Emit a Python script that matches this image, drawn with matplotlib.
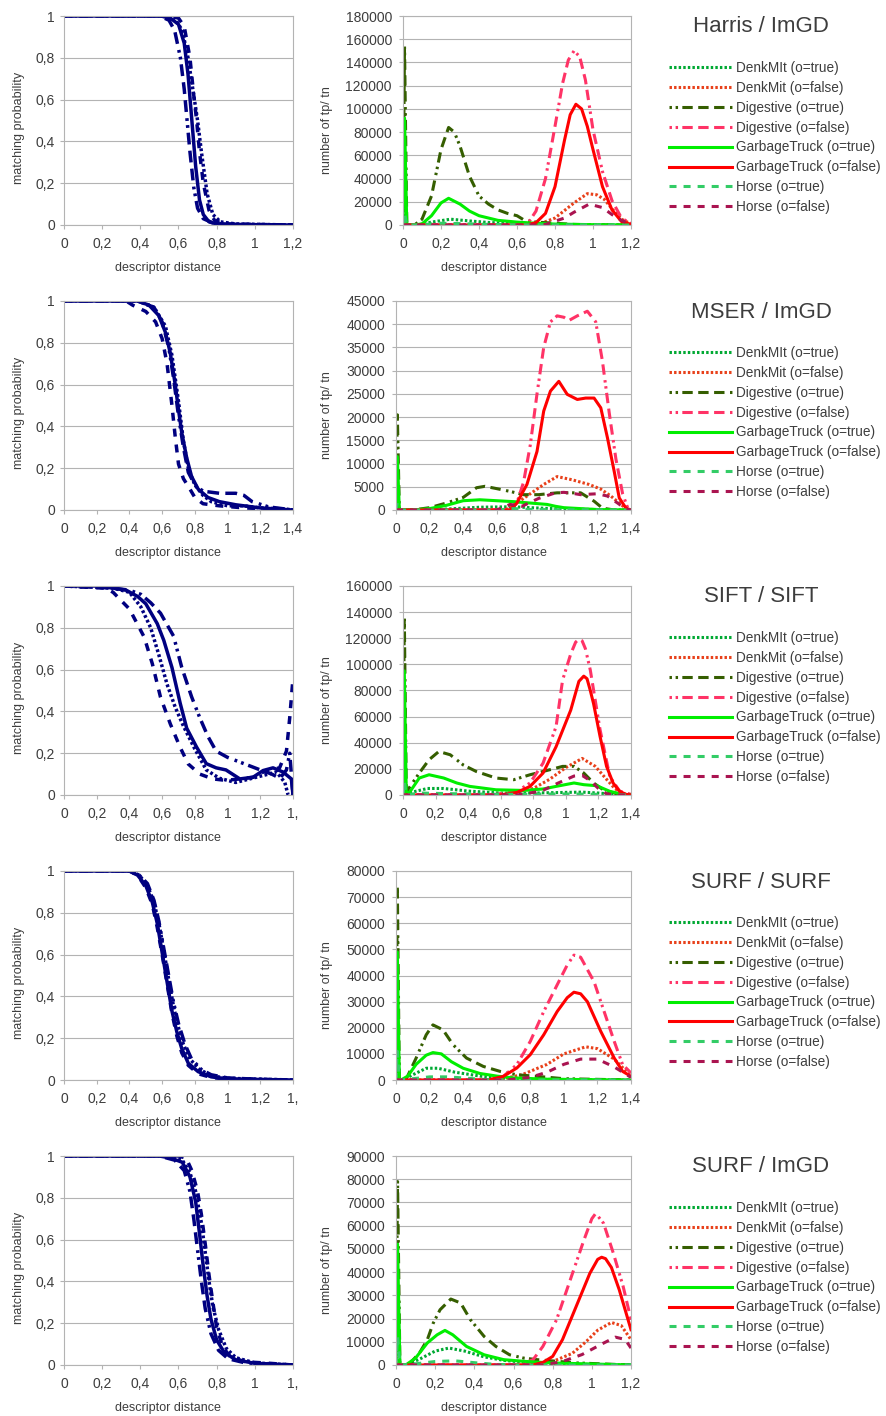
import matplotlib
matplotlib.use("Agg")
import numpy as np
import matplotlib.pyplot as plt
from matplotlib.ticker import FuncFormatter

plt.rcParams['font.family'] = ['Liberation Sans', 'DejaVu Sans']

W, H = 886, 1416
ROW_STEP = 285
TXT = '#3d3d3d'
GRID = '#b3b3b3'
NAVY = '#000080'

TITLES = ["Harris / ImGD", "MSER / ImGD", "SIFT / SIFT", "SURF / SURF", "SURF / ImGD"]
LEGEND_LABELS = ["DenkMIt (o=true)", "DenkMit (o=false)", "Digestive (o=true)", "Digestive (o=false)",
                 "GarbageTruck (o=true)", "GarbageTruck (o=false)", "Horse (o=true)", "Horse (o=false)"]
PROB_XMAX = [1.2, 1.4, 1.4, 1.4, 1.2]
PROB_LAST_LABEL = [None, None, "1,", "1,", "1,"]
COUNT_XMAX = [1.2, 1.4, 1.4, 1.4, 1.2]
COUNT_YMAX = [180000, 45000, 160000, 80000, 90000]
COUNT_YSTEP = [20000, 5000, 20000, 10000, 10000]

# ---- Harris / ImGD ----
harris_prob_denkmit = [(0, 1), (0.5, 1), (0.58, 0.99), (0.62, 0.93), (0.65, 0.8), (0.68, 0.62), (0.70, 0.5),
                       (0.72, 0.35), (0.75, 0.15), (0.78, 0.05), (0.82, 0.015), (0.9, 0.005), (1.2, 0)]
harris_prob_digestive = [(0, 1), (0.5, 1), (0.55, 0.98), (0.58, 0.93), (0.61, 0.8), (0.63, 0.65), (0.645, 0.5),
                         (0.66, 0.35), (0.68, 0.18), (0.7, 0.08), (0.73, 0.03), (0.78, 0.01), (0.85, 0.003), (1.2, 0)]
harris_prob_garbage = [(0, 1), (0.5, 1), (0.55, 0.995), (0.6, 0.96), (0.63, 0.87), (0.65, 0.72), (0.67, 0.5),
                       (0.69, 0.28), (0.71, 0.12), (0.73, 0.05), (0.76, 0.015), (0.8, 0.005), (1.0, 0.001), (1.2, 0)]
harris_prob_horse = [(0, 1), (0.55, 1), (0.6, 0.99), (0.63, 0.95), (0.66, 0.8), (0.68, 0.62), (0.695, 0.5),
                     (0.71, 0.35), (0.73, 0.2), (0.76, 0.07), (0.79, 0.02), (0.85, 0.005), (1.2, 0)]

harris_cnt_denkmit_t = [(0, 0), (0.008, 26000), (0.02, 0), (0.08, 0), (0.15, 2500), (0.25, 5000), (0.35, 3500),
                        (0.45, 2200), (0.6, 1200), (0.7, 600), (0.8, 300), (1.0, 100), (1.2, 0)]
harris_cnt_denkmit_f = [(0, 0), (0.65, 0), (0.72, 1000), (0.8, 6000), (0.9, 19000), (0.97, 27000), (1.02, 26000),
                        (1.06, 22000), (1.1, 14000), (1.15, 5000), (1.2, 1000)]
harris_cnt_digestive_t = [(0, 0), (0.008, 155000), (0.02, 0), (0.06, 0), (0.1, 5000), (0.15, 25000), (0.2, 65000),
                          (0.24, 84000), (0.27, 80000), (0.3, 68000), (0.35, 42000), (0.4, 25000), (0.45, 18000),
                          (0.5, 13000), (0.55, 10000), (0.6, 8000), (0.64, 4000), (0.7, 2500), (0.8, 1500),
                          (0.9, 500), (1.0, 200), (1.2, 0)]
harris_cnt_digestive_f = [(0, 0), (0.62, 0), (0.66, 2000), (0.7, 12000), (0.75, 40000), (0.8, 85000),
                          (0.84, 122000), (0.87, 142000), (0.9, 150000), (0.93, 145000), (0.96, 125000),
                          (1.0, 82000), (1.05, 46000), (1.1, 21000), (1.15, 6000), (1.2, 1000)]
harris_cnt_garbage_t = [(0, 0), (0.008, 92000), (0.02, 0), (0.06, 0), (0.1, 1000), (0.15, 8000), (0.2, 19000),
                        (0.24, 23000), (0.3, 18000), (0.35, 12000), (0.4, 8000), (0.5, 4000), (0.6, 2500),
                        (0.7, 1500), (0.8, 800), (1.0, 300), (1.2, 0)]
harris_cnt_garbage_f = [(0, 0), (0.65, 0), (0.7, 2000), (0.75, 10000), (0.8, 33000), (0.85, 73000),
                        (0.88, 95000), (0.91, 104000), (0.94, 100000), (0.97, 85000), (1.0, 65000),
                        (1.05, 33000), (1.1, 13000), (1.15, 3000), (1.2, 500)]
harris_cnt_horse_t = [(0, 0), (0.008, 10000), (0.02, 0), (0.1, 300), (0.2, 1500), (0.3, 1200), (0.45, 500),
                      (0.6, 200), (1.2, 0)]
harris_cnt_horse_f = [(0, 0), (0.7, 0), (0.75, 500), (0.85, 6000), (0.9, 11000), (0.98, 18000), (1.05, 15000),
                      (1.1, 9000), (1.15, 4000), (1.2, 500)]

# ---- MSER / ImGD ----
mser_prob_denkmit = [(0, 1), (0.45, 1), (0.55, 0.97), (0.62, 0.88), (0.66, 0.74), (0.7, 0.52), (0.73, 0.33),
                     (0.76, 0.2), (0.8, 0.12), (0.85, 0.07), (0.9, 0.04), (1.0, 0.02), (1.1, 0.02), (1.2, 0.01),
                     (1.35, 0.005), (1.4, 0)]
mser_prob_digestive = [(0, 1), (0.45, 1), (0.55, 0.97), (0.6, 0.9), (0.64, 0.78), (0.67, 0.63), (0.7, 0.45),
                       (0.73, 0.3), (0.76, 0.18), (0.8, 0.12), (0.85, 0.09), (0.95, 0.08), (1.05, 0.08),
                       (1.1, 0.07), (1.15, 0.04), (1.25, 0.015), (1.4, 0)]
mser_prob_garbage = [(0, 1), (0.45, 1), (0.52, 0.98), (0.58, 0.93), (0.62, 0.85), (0.65, 0.75), (0.68, 0.6),
                     (0.7, 0.48), (0.72, 0.37), (0.75, 0.25), (0.78, 0.16), (0.82, 0.1), (0.88, 0.06),
                     (0.95, 0.04), (1.05, 0.025), (1.2, 0.01), (1.4, 0)]
mser_prob_horse = [(0, 1), (0.38, 1), (0.42, 0.98), (0.5, 0.95), (0.56, 0.9), (0.6, 0.82), (0.63, 0.7),
                   (0.66, 0.5), (0.68, 0.35), (0.7, 0.22), (0.73, 0.15), (0.77, 0.1), (0.8, 0.06), (0.85, 0.03),
                   (0.95, 0.02), (1.1, 0.01), (1.4, 0)]

mser_cnt_denkmit_t = [(0, 0), (0.008, 3000), (0.02, 0), (0.1, 0), (0.3, 200), (0.5, 600), (0.7, 700), (0.8, 500),
                      (1.0, 200), (1.4, 0)]
mser_cnt_denkmit_f = [(0, 0), (0.65, 0), (0.72, 1500), (0.8, 3500), (0.88, 5500), (0.96, 7200), (1.05, 6500),
                      (1.15, 5500), (1.22, 4500), (1.28, 3000), (1.33, 1500), (1.38, 0), (1.4, 0)]
mser_cnt_digestive_t = [(0, 0), (0.008, 20500), (0.02, 0), (0.1, 0), (0.2, 500), (0.3, 1500), (0.4, 2700),
                        (0.48, 4800), (0.53, 5100), (0.6, 4600), (0.68, 4000), (0.76, 3300), (0.85, 3300),
                        (0.96, 3700), (1.1, 3700), (1.18, 1900), (1.23, 400), (1.3, 0), (1.4, 0)]
mser_cnt_digestive_f = [(0, 0), (0.68, 0), (0.72, 1500), (0.76, 6000), (0.8, 14000), (0.84, 25000),
                        (0.88, 35000), (0.92, 40500), (0.96, 41800), (1.0, 41500), (1.03, 40800), (1.08, 41800),
                        (1.14, 42800), (1.19, 40500), (1.23, 32000), (1.27, 21000), (1.31, 11000), (1.35, 3500),
                        (1.38, 500), (1.4, 0)]
mser_cnt_garbage_t = [(0, 0), (0.008, 11500), (0.02, 0), (0.1, 0), (0.2, 300), (0.3, 1000), (0.4, 2000),
                      (0.5, 2200), (0.6, 2000), (0.7, 1800), (0.8, 1500), (0.9, 1200), (0.95, 800), (1.0, 500),
                      (1.1, 300), (1.2, 100), (1.4, 0)]
mser_cnt_garbage_f = [(0, 0), (0.68, 0), (0.72, 1500), (0.78, 5500), (0.84, 12600), (0.88, 21300),
                      (0.92, 25600), (0.97, 27700), (1.02, 24900), (1.08, 23800), (1.13, 24100), (1.18, 24100),
                      (1.22, 22000), (1.26, 15500), (1.3, 8300), (1.33, 2600), (1.37, 400), (1.4, 0)]
mser_cnt_horse_t = [(0, 0), (0.008, 1500), (0.02, 0), (0.6, 0), (0.7, 300), (0.8, 100), (1.4, 0)]
mser_cnt_horse_f = [(0, 0), (0.6, 0), (0.68, 1200), (0.75, 800), (0.85, 2500), (0.95, 3700), (1.0, 3800),
                    (1.05, 3600), (1.1, 3300), (1.2, 3500), (1.26, 3000), (1.32, 1500), (1.37, 200), (1.4, 0)]

# ---- SIFT / SIFT ----
sift_prob_denkmit = [(0, 1), (0.3, 0.99), (0.4, 0.97), (0.47, 0.9), (0.53, 0.8), (0.58, 0.67), (0.63, 0.53),
                     (0.68, 0.42), (0.73, 0.33), (0.8, 0.22), (0.87, 0.12), (0.95, 0.08), (1.05, 0.06),
                     (1.15, 0.08), (1.25, 0.1), (1.3, 0.11), (1.35, 0.06), (1.37, 0.0), (1.4, 0.0)]
sift_prob_digestive = [(0, 1), (0.3, 0.99), (0.4, 0.98), (0.47, 0.96), (0.53, 0.92), (0.59, 0.87), (0.67, 0.76),
                       (0.72, 0.61), (0.78, 0.47), (0.83, 0.37), (0.88, 0.28), (0.93, 0.21), (1.0, 0.18),
                       (1.1, 0.15), (1.2, 0.12), (1.27, 0.1), (1.32, 0.08), (1.36, 0.12), (1.38, 0.2), (1.4, 0.0)]
sift_prob_garbage = [(0, 1), (0.2, 1), (0.3, 0.99), (0.38, 0.98), (0.45, 0.95), (0.5, 0.915), (0.57, 0.82),
                     (0.61, 0.74), (0.66, 0.61), (0.71, 0.44), (0.75, 0.32), (0.81, 0.23), (0.87, 0.15),
                     (0.93, 0.13), (0.99, 0.12), (1.075, 0.077), (1.156, 0.085), (1.217, 0.117), (1.278, 0.13),
                     (1.339, 0.11), (1.39, 0.077), (1.4, 0)]
sift_prob_horse = [(0, 1), (0.25, 0.99), (0.3, 0.97), (0.35, 0.93), (0.4, 0.89), (0.49, 0.756), (0.54, 0.628),
                   (0.59, 0.468), (0.65, 0.34), (0.71, 0.228), (0.76, 0.148), (0.83, 0.1), (0.91, 0.077),
                   (0.99, 0.07), (1.075, 0.077), (1.156, 0.085), (1.237, 0.117), (1.318, 0.13), (1.36, 0.21),
                   (1.38, 0.37), (1.4, 0.56)]

sift_cnt_denkmit_t = [(0, 0), (0.008, 30000), (0.02, 0), (0.05, 2000), (0.15, 5000), (0.25, 5000), (0.4, 3000),
                      (0.6, 1500), (0.8, 1500), (1.0, 2000), (1.1, 2200), (1.2, 1500), (1.3, 500), (1.4, 0)]
sift_cnt_denkmit_f = [(0, 0), (0.6, 0), (0.8, 5000), (0.9, 12000), (1.0, 21000), (1.1, 28000), (1.18, 22000),
                      (1.25, 12000), (1.3, 5000), (1.35, 1000), (1.4, 0)]
sift_cnt_digestive_t = [(0, 0), (0.008, 137000), (0.02, 5000), (0.03, 4000), (0.1, 16800), (0.16, 27000),
                        (0.22, 33300), (0.29, 30800), (0.37, 23000), (0.45, 18000), (0.57, 13000), (0.68, 11700),
                        (0.78, 15500), (0.9, 19300), (0.98, 21900), (1.05, 21900), (1.11, 16800), (1.17, 9200),
                        (1.23, 4000), (1.31, 1000), (1.4, 0)]
sift_cnt_digestive_f = [(0, 0), (0.55, 0), (0.62, 1500), (0.7, 2800), (0.78, 9200), (0.86, 24400), (0.94, 52400),
                        (0.98, 88000), (1.03, 108000), (1.06, 117000), (1.08, 119300), (1.1, 118000),
                        (1.12, 112000), (1.15, 95700), (1.21, 50000), (1.27, 14000), (1.33, 3000), (1.4, 500)]
sift_cnt_garbage_t = [(0, 0), (0.008, 95000), (0.02, 2000), (0.04, 2000), (0.1, 13000), (0.16, 15500),
                      (0.25, 13000), (0.33, 9200), (0.41, 6600), (0.57, 4000), (0.74, 3500), (0.86, 4600),
                      (0.94, 6600), (1.05, 9200), (1.11, 7900), (1.19, 7100), (1.27, 2800), (1.35, 500), (1.4, 0)]
sift_cnt_garbage_f = [(0, 0), (0.6, 0), (0.7, 2000), (0.78, 6600), (0.86, 16800), (0.94, 37000), (1.03, 65000),
                      (1.08, 87000), (1.11, 91000), (1.13, 89000), (1.15, 80000), (1.17, 70000), (1.21, 44800),
                      (1.25, 21900), (1.29, 9200), (1.33, 2800), (1.37, 500), (1.4, 0)]
sift_cnt_horse_t = [(0, 0), (0.008, 10000), (0.02, 0), (0.1, 1500), (0.3, 1000), (0.6, 500), (1.0, 800),
                    (1.2, 500), (1.4, 0)]
sift_cnt_horse_f = [(0, 0), (0.7, 0), (0.85, 3000), (0.95, 9000), (1.05, 14500), (1.1, 15000), (1.15, 11000),
                    (1.2, 5000), (1.25, 1000), (1.3, 0), (1.4, 0)]

# ---- SURF / SURF ----
surf_prob_denkmit = [(0, 1), (0.4, 1), (0.46, 0.98), (0.51, 0.93), (0.55, 0.85), (0.58, 0.75), (0.61, 0.62),
                     (0.64, 0.48), (0.67, 0.35), (0.7, 0.25), (0.73, 0.17), (0.77, 0.1), (0.83, 0.05),
                     (0.9, 0.02), (1.0, 0.008), (1.4, 0)]
surf_prob_digestive = [(0, 1), (0.4, 1), (0.46, 0.98), (0.51, 0.94), (0.55, 0.86), (0.58, 0.76), (0.61, 0.63),
                       (0.64, 0.5), (0.67, 0.37), (0.7, 0.27), (0.74, 0.17), (0.78, 0.1), (0.84, 0.05),
                       (0.9, 0.025), (1.0, 0.01), (1.2, 0.003), (1.4, 0)]
surf_prob_garbage = [(0, 1), (0.4, 1), (0.45, 0.98), (0.5, 0.93), (0.54, 0.85), (0.57, 0.75), (0.6, 0.61),
                     (0.63, 0.47), (0.66, 0.33), (0.69, 0.23), (0.72, 0.15), (0.76, 0.08), (0.82, 0.04),
                     (0.9, 0.015), (1.0, 0.005), (1.4, 0)]
surf_prob_horse = [(0, 1), (0.4, 1), (0.45, 0.98), (0.5, 0.92), (0.54, 0.84), (0.57, 0.73), (0.6, 0.6),
                   (0.63, 0.46), (0.66, 0.32), (0.69, 0.21), (0.72, 0.13), (0.76, 0.07), (0.82, 0.03),
                   (0.9, 0.012), (1.0, 0.004), (1.4, 0)]

surf_cnt_denkmit_t = [(0, 0), (0.008, 19000), (0.02, 0), (0.04, 0), (0.1, 2000), (0.18, 4500), (0.25, 4500),
                      (0.35, 3000), (0.5, 1500), (0.6, 800), (0.8, 300), (1.4, 0)]
surf_cnt_denkmit_f = [(0, 0), (0.6, 0), (0.75, 2000), (0.9, 6000), (1.0, 10000), (1.13, 12700), (1.2, 12000),
                      (1.3, 8000), (1.4, 1500)]
surf_cnt_digestive_t = [(0, 0), (0.008, 74000), (0.02, 0), (0.03, 0), (0.064, 800), (0.12, 8400), (0.18, 17300),
                        (0.22, 21100), (0.28, 19200), (0.34, 13500), (0.42, 8400), (0.52, 5200), (0.62, 3300),
                        (0.72, 2000), (0.84, 1400), (1.0, 500), (1.4, 0)]
surf_cnt_digestive_f = [(0, 0), (0.55, 0), (0.64, 1400), (0.72, 5900), (0.8, 14800), (0.88, 26200),
                        (0.96, 36400), (1.02, 44000), (1.06, 47800), (1.1, 47000), (1.18, 37600), (1.24, 26200),
                        (1.3, 14800), (1.35, 5900), (1.4, 2700)]
surf_cnt_garbage_t = [(0, 0), (0.008, 49000), (0.02, 0), (0.03, 0), (0.07, 1500), (0.12, 6000), (0.18, 9500),
                      (0.22, 10500), (0.27, 10000), (0.33, 7000), (0.4, 4500), (0.5, 2500), (0.6, 1500),
                      (0.7, 800), (0.9, 300), (1.4, 0)]
surf_cnt_garbage_f = [(0, 0), (0.55, 0), (0.64, 1400), (0.72, 4600), (0.8, 9700), (0.88, 17300), (0.96, 26200),
                      (1.02, 31500), (1.06, 33600), (1.1, 33000), (1.14, 30000), (1.22, 18600), (1.3, 8400),
                      (1.35, 3300), (1.4, 1400)]
surf_cnt_horse_t = [(0, 0), (0.008, 11000), (0.02, 0), (0.1, 500), (0.2, 1200), (0.3, 1200), (0.4, 800),
                    (0.5, 300), (0.6, 0), (1.4, 0)]
surf_cnt_horse_f = [(0, 0), (0.65, 0), (0.8, 1000), (0.9, 3000), (1.0, 6000), (1.1, 8000), (1.2, 8000),
                    (1.3, 5000), (1.4, 1000)]

# ---- SURF / ImGD ----
imgd_prob_denkmit = [(0, 1), (0.55, 1), (0.62, 0.98), (0.66, 0.92), (0.69, 0.83), (0.72, 0.68), (0.74, 0.54),
                     (0.76, 0.4), (0.78, 0.28), (0.81, 0.17), (0.85, 0.08), (0.9, 0.035), (1.0, 0.01), (1.2, 0)]
imgd_prob_digestive = [(0, 1), (0.5, 1), (0.58, 0.98), (0.63, 0.93), (0.66, 0.83), (0.68, 0.7), (0.7, 0.55),
                       (0.72, 0.4), (0.74, 0.27), (0.77, 0.15), (0.81, 0.07), (0.86, 0.03), (0.95, 0.01), (1.2, 0)]
imgd_prob_garbage = [(0, 1), (0.5, 1), (0.56, 0.99), (0.62, 0.97), (0.66, 0.9), (0.69, 0.78), (0.71, 0.63),
                     (0.73, 0.47), (0.75, 0.33), (0.77, 0.22), (0.8, 0.12), (0.84, 0.06), (0.9, 0.025),
                     (1.0, 0.008), (1.2, 0)]
imgd_prob_horse = [(0, 1), (0.6, 1), (0.64, 0.99), (0.67, 0.93), (0.7, 0.83), (0.72, 0.72), (0.74, 0.58),
                   (0.76, 0.43), (0.78, 0.3), (0.8, 0.18), (0.83, 0.09), (0.87, 0.04), (0.95, 0.015),
                   (1.05, 0.01), (1.2, 0)]

imgd_cnt_denkmit_t = [(0, 0), (0.008, 21000), (0.02, 0), (0.05, 0), (0.12, 2500), (0.2, 6000), (0.27, 7300),
                      (0.35, 6000), (0.45, 3500), (0.55, 2000), (0.7, 800), (0.9, 300), (1.2, 0)]
imgd_cnt_denkmit_f = [(0, 0), (0.7, 0), (0.8, 1500), (0.9, 5000), (0.97, 10000), (1.03, 15000), (1.1, 18300),
                      (1.15, 17000), (1.2, 10900)]
imgd_cnt_digestive_t = [(0, 0), (0.008, 79000), (0.02, 0), (0.04, 0), (0.07, 600), (0.12, 5200), (0.16, 10900),
                        (0.19, 18000), (0.225, 23800), (0.28, 28400), (0.33, 26700), (0.38, 19500), (0.45, 12300),
                        (0.51, 8000), (0.58, 4400), (0.65, 3000), (0.72, 2300), (0.82, 1600), (0.92, 900), (1.2, 0)]
imgd_cnt_digestive_f = [(0, 0), (0.6, 0), (0.65, 600), (0.7, 2300), (0.75, 8000), (0.82, 19500), (0.89, 36700),
                        (0.96, 53900), (1.0, 63000), (1.02, 65300), (1.06, 61000), (1.11, 48100), (1.16, 33800),
                        (1.2, 19500)]
imgd_cnt_garbage_t = [(0, 0), (0.008, 52000), (0.02, 0), (0.05, 0), (0.1, 3000), (0.16, 9500), (0.21, 13000),
                      (0.25, 14900), (0.29, 13000), (0.36, 8000), (0.45, 4400), (0.55, 2300), (0.65, 1600),
                      (0.79, 900), (1.2, 0)]
imgd_cnt_garbage_f = [(0, 0), (0.7, 0), (0.75, 1100), (0.8, 3700), (0.85, 10900), (0.92, 25200), (0.99, 39500),
                      (1.03, 45500), (1.05, 46400), (1.07, 45800), (1.1, 42000), (1.14, 32400), (1.2, 15200)]
imgd_cnt_horse_t = [(0, 0), (0.008, 12000), (0.02, 0), (0.1, 500), (0.2, 1500), (0.3, 1800), (0.4, 1000),
                    (0.5, 300), (0.6, 0), (1.2, 0)]
imgd_cnt_horse_f = [(0, 0), (0.75, 0), (0.85, 1500), (0.95, 4500), (1.05, 9000), (1.12, 12000), (1.17, 11000),
                    (1.2, 7300)]

PROB_SERIES = [
    [harris_prob_denkmit, harris_prob_digestive, harris_prob_garbage, harris_prob_horse],
    [mser_prob_denkmit, mser_prob_digestive, mser_prob_garbage, mser_prob_horse],
    [sift_prob_denkmit, sift_prob_digestive, sift_prob_garbage, sift_prob_horse],
    [surf_prob_denkmit, surf_prob_digestive, surf_prob_garbage, surf_prob_horse],
    [imgd_prob_denkmit, imgd_prob_digestive, imgd_prob_garbage, imgd_prob_horse],
]
COUNT_SERIES = [
    [harris_cnt_denkmit_t, harris_cnt_denkmit_f, harris_cnt_digestive_t, harris_cnt_digestive_f,
     harris_cnt_garbage_t, harris_cnt_garbage_f, harris_cnt_horse_t, harris_cnt_horse_f],
    [mser_cnt_denkmit_t, mser_cnt_denkmit_f, mser_cnt_digestive_t, mser_cnt_digestive_f,
     mser_cnt_garbage_t, mser_cnt_garbage_f, mser_cnt_horse_t, mser_cnt_horse_f],
    [sift_cnt_denkmit_t, sift_cnt_denkmit_f, sift_cnt_digestive_t, sift_cnt_digestive_f,
     sift_cnt_garbage_t, sift_cnt_garbage_f, sift_cnt_horse_t, sift_cnt_horse_f],
    [surf_cnt_denkmit_t, surf_cnt_denkmit_f, surf_cnt_digestive_t, surf_cnt_digestive_f,
     surf_cnt_garbage_t, surf_cnt_garbage_f, surf_cnt_horse_t, surf_cnt_horse_f],
    [imgd_cnt_denkmit_t, imgd_cnt_denkmit_f, imgd_cnt_digestive_t, imgd_cnt_digestive_f,
     imgd_cnt_garbage_t, imgd_cnt_garbage_f, imgd_cnt_horse_t, imgd_cnt_horse_f],
]

# one line style per dataset: DenkMit, Digestive, GarbageTruck, Horse
DATASET_STYLES = [(0, (0.8, 0.7)),
                  (0, (0.8, 1.2, 0.8, 1.4, 3.4, 1.8, 3.4, 1.8, 3.4, 1.8)),
                  '-',
                  (0, (2.3, 2.3))]
COUNT_COLORS = ['#00a933', '#e8401a', '#355e00', '#ff3366', '#00ee00', '#ff0000', '#33cc66', '#aa1450']


def px_axes(fig, left, top, right, bottom):
    return fig.add_axes([left / W, 1 - bottom / H, (right - left) / W, (bottom - top) / H])


def style_axes(ax, ypad):
    for s in ax.spines.values():
        s.set_color(GRID)
        s.set_linewidth(0.8)
    ax.grid(axis='y', color=GRID, linewidth=0.8)
    ax.set_axisbelow(True)
    ax.tick_params(direction='out', length=3, width=0.8, color=GRID, labelcolor=TXT, labelsize=10)
    ax.tick_params(axis='y', pad=ypad)
    ax.tick_params(axis='x', pad=5.5)


def comma_label(v):
    s = f"{v:.1f}".rstrip('0').rstrip('.')
    return s.replace('.', ',')


fig = plt.figure(figsize=(W / 100, H / 100), dpi=100)
to_fig = fig.transFigure

for r in range(5):
    off = r * ROW_STEP

    # left: matching probability
    axp = px_axes(fig, 64, 16 + off, 293, 225 + off)
    for pts, ls in zip(PROB_SERIES[r], DATASET_STYLES):
        x, y = zip(*pts)
        axp.plot(x, y, color=NAVY, lw=2.5, ls=ls)
    xmax = PROB_XMAX[r]
    axp.set_xlim(0, xmax)
    axp.set_ylim(0, 1)
    xt = np.round(np.arange(0, xmax + 0.01, 0.2), 1)
    xl = [comma_label(v) for v in xt]
    if PROB_LAST_LABEL[r]:
        xl[-1] = PROB_LAST_LABEL[r]
    axp.set_xticks(xt, xl)
    axp.set_yticks(np.round(np.arange(0, 1.01, 0.2), 1))
    axp.yaxis.set_major_formatter(FuncFormatter(lambda v, p: comma_label(v)))
    style_axes(axp, 3.5)
    axp.set_xlabel("descriptor distance", fontsize=9, color=TXT, va='center')
    axp.xaxis.set_label_coords(168 / W, 1 - (268 + off) / H, transform=to_fig)
    axp.set_ylabel("matching probability", fontsize=9, color=TXT, va='center')
    axp.yaxis.set_label_coords(19 / W, 1 - (128 + off) / H, transform=to_fig)

    # middle: number of tp / tn
    left = 403 if COUNT_YMAX[r] >= 100000 else 396
    axc = px_axes(fig, left, 16 + off, 631, 225 + off)
    handles = []
    for i, pts in enumerate(COUNT_SERIES[r]):
        x, y = zip(*pts)
        h, = axc.plot(x, y, color=COUNT_COLORS[i], lw=2.2, ls=DATASET_STYLES[i // 2])
        handles.append(h)
    cxmax = COUNT_XMAX[r]
    axc.set_xlim(0, cxmax)
    axc.set_ylim(0, COUNT_YMAX[r])
    cxt = np.round(np.arange(0, cxmax + 0.01, 0.2), 1)
    axc.set_xticks(cxt, [comma_label(v) for v in cxt])
    axc.set_yticks(np.arange(0, COUNT_YMAX[r] + 1, COUNT_YSTEP[r]))
    axc.yaxis.set_major_formatter(FuncFormatter(lambda v, p: f"{int(round(v))}"))
    style_axes(axc, 5)
    axc.set_xlabel("descriptor distance", fontsize=9, color=TXT, va='center')
    axc.xaxis.set_label_coords(494 / W, 1 - (268 + off) / H, transform=to_fig)
    axc.set_ylabel("number of tp/ tn", fontsize=9, color=TXT, va='center')
    axc.yaxis.set_label_coords(327 / W, 1 - (130 + off) / H, transform=to_fig)

    # right: title + legend
    fig.text(761 / W, 1 - (27 + off) / H, TITLES[r], fontsize=16, color=TXT, ha='center', va='center')
    axc.legend(handles, LEGEND_LABELS, loc='upper left',
               bbox_to_anchor=(669 / W, 1 - (61 + off) / H), bbox_transform=to_fig,
               frameon=False, fontsize=9.8, handlelength=4.6, handletextpad=0.35,
               labelspacing=0.43, borderpad=0, borderaxespad=0, labelcolor=TXT)

fig.savefig("out.png", dpi=100)
